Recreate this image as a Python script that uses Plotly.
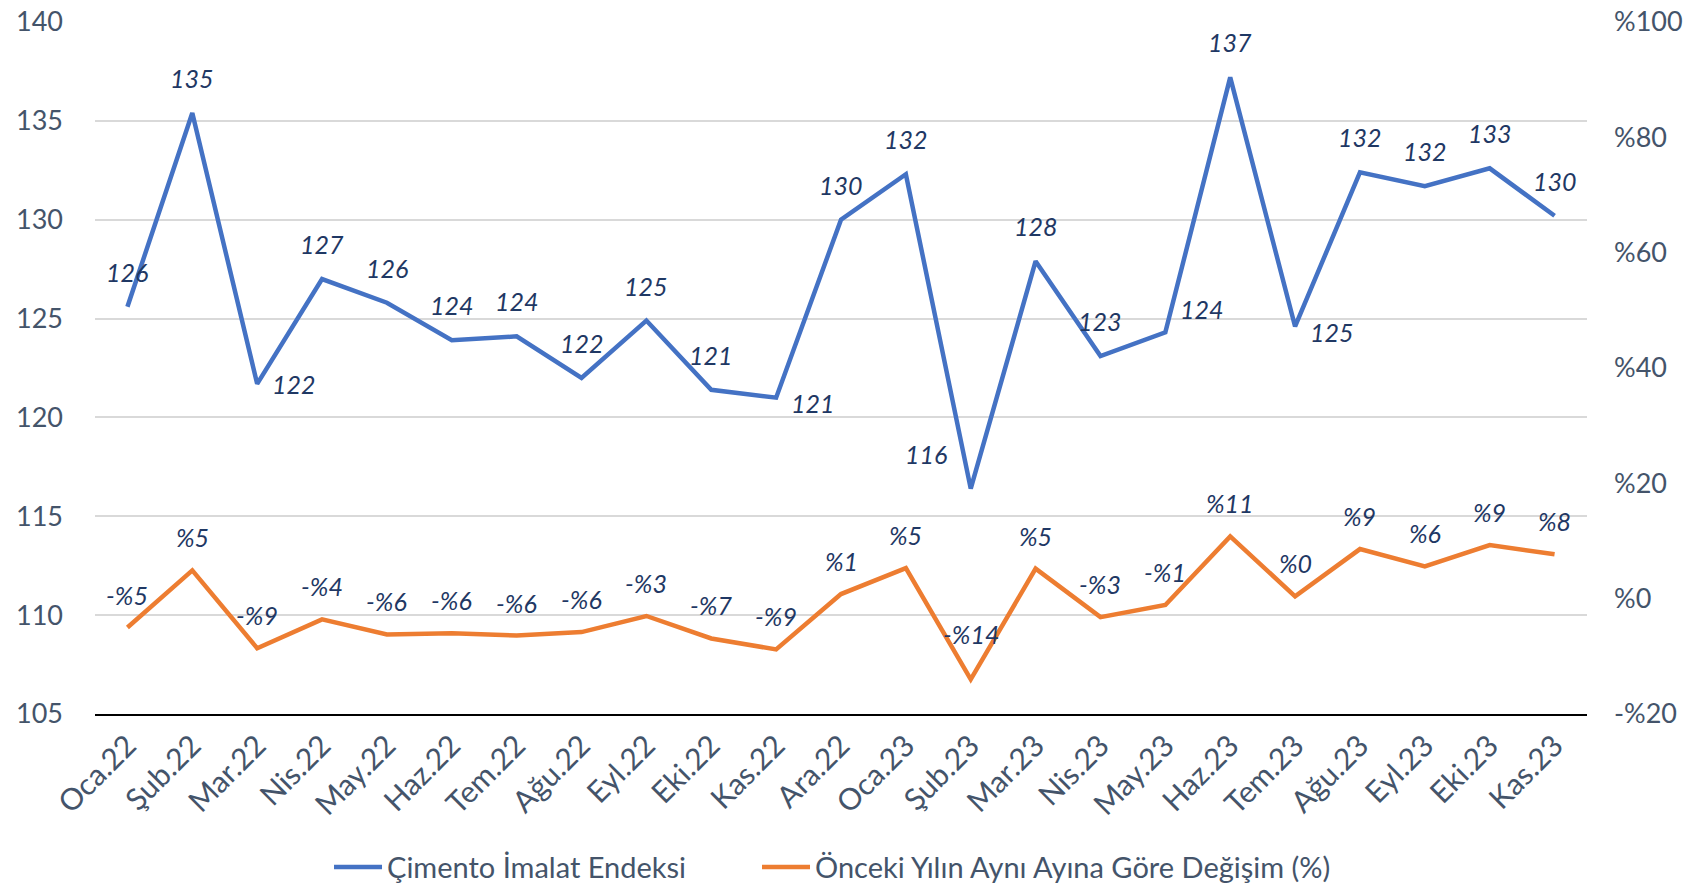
import plotly.graph_objects as go

categories = ["Oca.22", "Şub.22", "Mar.22", "Nis.22", "May.22", "Haz.22", "Tem.22", "Ağu.22",
              "Eyl.22", "Eki.22", "Kas.22", "Ara.22", "Oca.23", "Şub.23", "Mar.23", "Nis.23",
              "May.23", "Haz.23", "Tem.23", "Ağu.23", "Eyl.23", "Eki.23", "Kas.23"]

index_values = [125.6, 135.4, 121.7, 127.0, 125.8, 123.9, 124.1, 122.0, 124.9, 121.4, 121.0, 130.0,
                132.3, 116.4, 127.9, 123.1, 124.3, 137.2, 124.6, 132.4, 131.7, 132.6, 130.2]

change_values = [-5.0, 4.9, -8.6, -3.6, -6.2, -6.0, -6.4, -5.8, -3.0, -6.9, -8.8, 0.8,
                 5.3, -14.0, 5.2, -3.2, -1.1, 10.8, 0.4, 8.6, 5.6, 9.3, 7.7]

left_ticks = [105, 110, 115, 120, 125, 130, 135, 140]
right_ticks = [-20, 0, 20, 40, 60, 80, 100]

series_names = ["Çimento İmalat Endeksi", "Önceki Yılın Aynı Ayına Göre Değişim (%)"]

BLUE = "#4472C4"
ORANGE = "#ED7D31"
LABEL = "#1F3864"
AXIS = "#44546A"
FONT = "Lato, 'Noto Sans', sans-serif"


def pct(v):
    n = int(round(abs(v)))
    return ("-%" if v < 0 and n != 0 else "%") + str(n)


fig = go.Figure()
fig.add_trace(go.Scatter(x=categories, y=index_values, mode="lines", name=series_names[0],
                         line=dict(color=BLUE, width=4.5), yaxis="y", legend="legend"))
fig.add_trace(go.Scatter(x=categories, y=change_values, mode="lines", name=series_names[1],
                         line=dict(color=ORANGE, width=4.5), yaxis="y2", legend="legend2"))

# label placement (style): default above
blue_place = {2: ("left", 13, 0), 10: ("left", 13, -5), 13: ("center", -45, 35),
              16: ("left", 13, 23), 18: ("left", 13, -6)}
orange_place = {13: ("center", 0, 45)}

annotations = []
lab_font = dict(family=FONT, size=25, color=LABEL, style="italic")
for i, (c, v) in enumerate(zip(categories, index_values)):
    xa, xs, ys = blue_place.get(i, ("center", 0, 35))
    annotations.append(dict(x=c, y=v, xref="x", yref="y", text=str(int(round(v))),
                            showarrow=False, xanchor=xa, xshift=xs, yshift=ys, font=lab_font))
for i, (c, v) in enumerate(zip(categories, change_values)):
    xa, xs, ys = orange_place.get(i, ("center", 0, 33))
    annotations.append(dict(x=c, y=v, xref="x", yref="y2", text=pct(v),
                            showarrow=False, xanchor=xa, xshift=xs, yshift=ys, font=lab_font))

legend_common = dict(orientation="h", xref="container", yref="container", y=0.0247,
                     yanchor="middle", xanchor="left", font=dict(size=29, color=AXIS),
                     bgcolor="rgba(0,0,0,0)", itemwidth=48)

W, H = 1689, 889

fig.update_layout(
    width=W, height=H,
    margin=dict(l=95, r=102, t=22, b=175, autoexpand=False),
    paper_bgcolor="white", plot_bgcolor="white",
    font=dict(family=FONT, color=AXIS, size=27),
    xaxis=dict(type="category", range=[-0.5, len(categories) - 0.5], tickangle=-45,
               showgrid=False, showline=True, linecolor="#000000", linewidth=2,
               ticks="", tickfont=dict(size=30, color=AXIS), automargin=False),
    yaxis=dict(range=[105, 140], tickvals=left_ticks, showgrid=True, gridcolor="#D9D9D9",
               gridwidth=2, zeroline=False, showline=False, ticks="", automargin=False,
               tickfont=dict(size=27, color=AXIS), ticklabelstandoff=31,
               ticklabeloverflow="allow"),
    yaxis2=dict(range=[-20, 100], overlaying="y", side="right", tickvals=right_ticks,
                ticktext=[pct(t) for t in right_ticks], showgrid=False, zeroline=False,
                showline=False, ticks="", automargin=False,
                tickfont=dict(size=27, color=AXIS), ticklabelstandoff=26,
                ticklabeloverflow="allow"),
    legend=dict(x=0.1948, **legend_common),
    legend2=dict(x=0.4482, **legend_common),
    annotations=annotations,
    showlegend=True,
)

fig.write_html("out.html", config={"displayModeBar": False},
               post_script="document.body.style.margin='0';")
